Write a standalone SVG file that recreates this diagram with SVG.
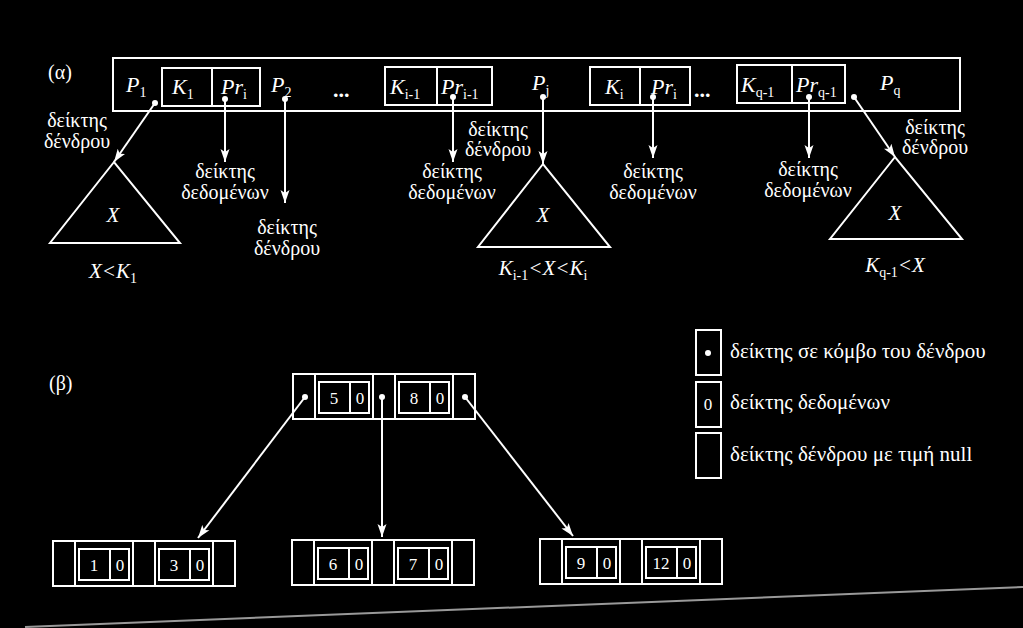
<svg xmlns="http://www.w3.org/2000/svg" width="1023" height="628" viewBox="0 0 1023 628">
<defs>
<style>
.ln{stroke:#fff;stroke-width:2;fill:none}
.tx{fill:#fff;font-family:"Liberation Serif","DejaVu Serif",serif}
.it{font-style:italic}
.lab{font-size:20px;text-anchor:middle}
.big{font-size:22px}
.sub{font-size:14px;font-style:normal}
.num{font-size:17px;text-anchor:middle}
.leg{font-size:21px}
.dot{fill:#fff}
</style>
<marker id="ah" markerUnits="userSpaceOnUse" markerWidth="14" markerHeight="10" refX="13" refY="5" orient="auto">
<path d="M0,0.5 L13,5 L0,9.5 L3,5 Z" fill="#fff"/>
</marker>
<g id="bnode">
<rect class="ln" x="0" y="0" width="182" height="45"/>
<path class="ln" d="M22,0V45M80,0V45M102,0V45M160,0V45"/>
<rect class="ln" x="26" y="8" width="50" height="31"/>
<path class="ln" d="M57,8V39"/>
<rect class="ln" x="106" y="8" width="50" height="31"/>
<path class="ln" d="M137,8V39"/>
</g>
</defs>
<rect x="0" y="0" width="1023" height="628" fill="#000"/>

<!-- (α) -->
<text class="tx" x="48" y="79" font-size="20">(α)</text>

<g id="nodeA">
<rect class="ln" x="113" y="58" width="847" height="53"/>
<rect class="ln" x="162" y="68" width="98" height="38"/>
<path class="ln" d="M212,68V106"/>
<rect class="ln" x="385" y="67" width="107" height="38"/>
<path class="ln" d="M437,67V105"/>
<rect class="ln" x="590" y="67" width="100" height="38"/>
<path class="ln" d="M640,67V105"/>
<rect class="ln" x="737" y="65" width="108" height="38"/>
<path class="ln" d="M792,65V103"/>
<text class="tx it big" x="126" y="92">P<tspan class="sub" dy="5">1</tspan></text>
<text class="tx it big" x="172" y="94">K<tspan class="sub" dy="5">1</tspan></text>
<text class="tx it big" x="221" y="94">Pr<tspan class="sub" dy="5">i</tspan></text>
<text class="tx it big" x="271" y="92">P<tspan class="sub" dy="5">2</tspan></text>
<text class="tx big" x="333" y="97" font-weight="bold">...</text>
<text class="tx it big" x="390" y="94">K<tspan class="sub it" dy="5">i</tspan><tspan class="sub" dy="0">-1</tspan></text>
<text class="tx it big" x="441" y="94">Pr<tspan class="sub" dy="5">i-1</tspan></text>
<text class="tx it big" x="532" y="90">P<tspan class="sub" dy="5">j</tspan></text>
<text class="tx it big" x="605" y="94">K<tspan class="sub it" dy="5">i</tspan></text>
<text class="tx it big" x="651" y="94">Pr<tspan class="sub" dy="5">i</tspan></text>
<text class="tx big" x="694" y="97" font-weight="bold">...</text>
<text class="tx it big" x="741" y="92">K<tspan class="sub it" dy="5">q</tspan><tspan class="sub" dy="0">-1</tspan></text>
<text class="tx it big" x="796" y="92">Pr<tspan class="sub" dy="5">q-1</tspan></text>
<text class="tx it big" x="880" y="90">P<tspan class="sub" dy="5">q</tspan></text>
<circle class="dot" cx="155" cy="103" r="3"/>
<circle class="dot" cx="225" cy="99" r="3"/>
<circle class="dot" cx="285" cy="99" r="3"/>
<circle class="dot" cx="453" cy="97" r="3"/>
<circle class="dot" cx="543" cy="97" r="3"/>
<circle class="dot" cx="653" cy="97" r="3"/>
<circle class="dot" cx="809" cy="97" r="3"/>
<circle class="dot" cx="854" cy="97" r="3"/>
</g>

<g id="tree1">
<path class="ln" d="M114,162L50,243H180Z"/>
<text class="tx it" x="113" y="222" font-size="21" text-anchor="middle">X</text>
<text class="tx it" x="113" y="278" font-size="21" text-anchor="middle">X&lt;K<tspan class="sub" dy="5">1</tspan></text>
</g>
<g id="tree2">
<path class="ln" d="M543,164L478,247H610Z"/>
<text class="tx it" x="543" y="222" font-size="21" text-anchor="middle">X</text>
<text class="tx it" x="543" y="275" font-size="21" text-anchor="middle">K<tspan class="sub it" dy="5">i</tspan><tspan class="sub">-1</tspan><tspan dy="-5">&lt;X&lt;K</tspan><tspan class="sub it" dy="5">i</tspan></text>
</g>
<g id="tree3">
<path class="ln" d="M895,157L830,239H962Z"/>
<text class="tx it" x="895" y="220" font-size="21" text-anchor="middle">X</text>
<text class="tx it" x="895" y="272" font-size="21" text-anchor="middle">K<tspan class="sub it" dy="5">q</tspan><tspan class="sub">-1</tspan><tspan dy="-5">&lt;X</tspan></text>
</g>

<g id="labelsA" class="tx lab">
<text x="77" y="127">δείκτης</text><text x="77" y="148">δένδρου</text>
<text x="225" y="178">δείκτης</text><text x="225" y="199">δεδομένων</text>
<text x="287" y="234">δείκτης</text><text x="287" y="255">δένδρου</text>
<text x="498" y="136">δείκτης</text><text x="498" y="156">δένδρου</text>
<text x="452" y="178">δείκτης</text><text x="452" y="199">δεδομένων</text>
<text x="653" y="178">δείκτης</text><text x="653" y="199">δεδομένων</text>
<text x="808" y="176">δείκτης</text><text x="808" y="197">δεδομένων</text>
<text x="935" y="134">δείκτης</text><text x="935" y="154">δένδρου</text>
</g>

<!-- (β) -->
<text class="tx" x="49" y="390" font-size="20">(β)</text>

<g id="root">
<use href="#bnode" x="293" y="374"/>
<text class="tx num" x="334" y="404">5</text><text class="tx num" x="360" y="404">0</text>
<text class="tx num" x="414" y="404">8</text><text class="tx num" x="440" y="404">0</text>
<circle class="dot" cx="305" cy="397" r="3"/>
<circle class="dot" cx="382" cy="397" r="3"/>
<circle class="dot" cx="465" cy="397" r="3"/>
</g>
<g id="leaf1">
<use href="#bnode" x="53" y="541"/>
<text class="tx num" x="94" y="571">1</text><text class="tx num" x="120" y="571">0</text>
<text class="tx num" x="174" y="571">3</text><text class="tx num" x="200" y="571">0</text>
</g>
<g id="leaf2">
<use href="#bnode" x="292" y="540"/>
<text class="tx num" x="333" y="570">6</text><text class="tx num" x="359" y="570">0</text>
<text class="tx num" x="413" y="570">7</text><text class="tx num" x="439" y="570">0</text>
</g>
<g id="leaf3">
<use href="#bnode" x="540" y="539"/>
<text class="tx num" x="581" y="569">9</text><text class="tx num" x="607" y="569">0</text>
<text class="tx num" x="661" y="569">12</text><text class="tx num" x="687" y="569">0</text>
</g>

<g id="legend">
<rect class="ln" x="696" y="330" width="25" height="45"/>
<circle class="dot" cx="708" cy="353" r="3"/>
<text class="tx leg" x="730" y="358">δείκτης σε κόμβο του δένδρου</text>
<rect class="ln" x="696" y="382" width="25" height="45"/>
<text class="tx num" x="708" y="410" font-size="15">0</text>
<text class="tx leg" x="730" y="409">δείκτης δεδομένων</text>
<rect class="ln" x="696" y="433" width="25" height="45"/>
<text class="tx leg" x="730" y="461">δείκτης δένδρου με τιμή null</text>
</g>

<g id="connectors" class="ln" marker-end="url(#ah)">
<path d="M155,103L114,162"/>
<path d="M225,99V162"/>
<path d="M285,99V203"/>
<path d="M453,97V162"/>
<path d="M543,97V164"/>
<path d="M653,97V158"/>
<path d="M809,97V158"/>
<path d="M854,97L895,157"/>
<path d="M305,397L198,538"/>
<path d="M382,397V537"/>
<path d="M465,397L573,536"/>
</g>

<line x1="25" y1="627" x2="1023" y2="587" stroke="#999" stroke-width="2"/>
</svg>
